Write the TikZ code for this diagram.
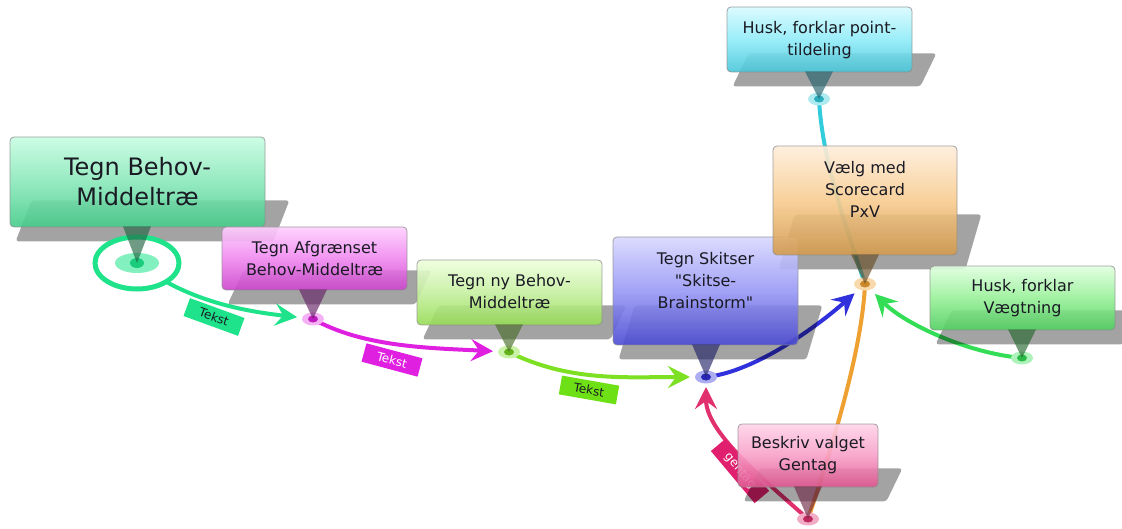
\documentclass[tikz,border=0pt]{standalone}
\usepackage{fontspec}
\setmainfont{DejaVu Sans}[Ligatures=TeXOff]
\usetikzlibrary{arrows.meta,calc}
\pgfdeclarelayer{bg}\pgfdeclarelayer{lines}\pgfdeclarelayer{shadows}
\pgfsetlayers{bg,lines,shadows,main}
\definecolor{gAt}{HTML}{C8FDE2}\definecolor{gAm}{HTML}{8AE8BA}\definecolor{gAb}{HTML}{45CC8A}\definecolor{gAl}{HTML}{1EE38A}
\definecolor{mBt}{HTML}{FFD0FF}\definecolor{mBm}{HTML}{F088F0}\definecolor{mBb}{HTML}{CC44CC}\definecolor{mBl}{HTML}{E020E0}
\definecolor{yCt}{HTML}{EEFFDD}\definecolor{yCm}{HTML}{C6F0A0}\definecolor{yCb}{HTML}{96DC55}\definecolor{yCl}{HTML}{7EE022}
\definecolor{bDt}{HTML}{D8D8FF}\definecolor{bDm}{HTML}{9898F6}\definecolor{bDb}{HTML}{4A4AD2}\definecolor{bDl}{HTML}{3030DD}
\definecolor{oEt}{HTML}{FFEEDC}\definecolor{oEm}{HTML}{F8CC90}\definecolor{oEb}{HTML}{D29A4C}\definecolor{oEl}{HTML}{EEA030}
\definecolor{cFt}{HTML}{D8FBFF}\definecolor{cFm}{HTML}{90ECF8}\definecolor{cFb}{HTML}{48C6D8}\definecolor{cFl}{HTML}{33CCDD}
\definecolor{vGt}{HTML}{E0FFE0}\definecolor{vGm}{HTML}{98F098}\definecolor{vGb}{HTML}{50CF60}\definecolor{vGl}{HTML}{33DD55}
\definecolor{pHt}{HTML}{FFD4E8}\definecolor{pHm}{HTML}{F8A0C8}\definecolor{pHb}{HTML}{E05590}\definecolor{pHl}{HTML}{E0306E}
\definecolor{lblA}{HTML}{1EE38A}\definecolor{lblB}{HTML}{E020E0}\definecolor{lblC}{HTML}{6EE016}\definecolor{lblG}{HTML}{E0206E}
\definecolor{txtc}{HTML}{1A1A24}
\newcommand\boxshadow[2]{\begin{pgfonlayer}{shadows}\fill[shadowst] ($(#1.south west)+(22,-#2)$) -- ($(#1.south east)+(24,-#2)$) -- ($(#1.south east)+(8,14)$) -- ($(#1.south west)+(6,14)$) -- cycle;\end{pgfonlayer}}
\newcommand\boxptr[3]{\fill[ptrst, fill=#3] ($(#1.south -| #2)+(-14,-1)$) -- (#2) -- ($(#1.south -| #2)+(14,-1)$) -- cycle;}
\newcommand\tipmark[3]{\fill[#2] (#1) ellipse[x radius=11, y radius=6.5]; \fill[#3] (#1) ellipse[x radius=5, y radius=3.5];}
\begin{document}
\begin{tikzpicture}[x=1pt,y=-1pt,
  boxst/.style={draw=black!45, line width=0.8pt, rounded corners=4pt, fill opacity=0.9, draw opacity=0.8, inner sep=0pt},
  txt/.style={align=center, text=txtc, font=\fontsize{16}{22}\selectfont, inner sep=0pt},
  bigtxt/.style={align=center, text=txtc, font=\fontsize{24}{30}\selectfont, inner sep=0pt},
  shadowst/.style={fill=black, fill opacity=0.36, rounded corners=3pt},
  ptrst/.style={fill opacity=0.65},
  conn/.style={line width=4pt, -{Stealth[length=22pt,width=22pt,inset=8pt]}},
  plain/.style={line width=4pt},
  lbl/.style={minimum width=58pt, minimum height=19pt, inner sep=0pt, font=\fontsize{12}{14}\selectfont}
]
\useasboundingbox (0,0) rectangle (1122,529);
\begin{pgfonlayer}{bg}\fill[white] (0,0) rectangle (1122,529);\end{pgfonlayer}

% tip coordinates
\coordinate (t1) at (137,263);
\coordinate (t2) at (313,319);
\coordinate (t3) at (509,352);
\coordinate (t4) at (706,377);
\coordinate (t5) at (865,284);
\coordinate (t6) at (819,99);
\coordinate (t7) at (1022,358);
\coordinate (t8) at (808,519);

% connectors
\begin{pgfonlayer}{lines}
\draw[conn, gAl, shorten >=16pt] (t1) .. controls +(50,38) and +(-70,-8) .. (t2);
\draw[conn, mBl, shorten >=16pt] (t2) .. controls +(50,28) and +(-80,-4) .. (t3);
\draw[conn, yCl, shorten >=16pt] (t3) .. controls +(60,30) and +(-80,0) .. (t4);
\draw[conn, bDl, shorten >=14pt] (t4) .. controls +(50,-5) and +(-45,40) .. (t5);
\draw[conn, vGl, shorten >=14pt] (t7) .. controls +(-55,-5) and +(40,40) .. (t5);
\draw[plain, cFl] (t6) .. controls +(3,60) and +(-20,-60) .. (t5);
\draw[plain, oEl] (t8) .. controls +(20,-60) and +(-3,70) .. (t5);
\draw[conn, pHl, shorten >=10pt] (t8) .. controls +(-45,-40) and +(0,55) .. (t4);
\node[lbl, fill=lblA, text=txtc, rotate=-20] (l1) at (214,317) {Tekst};
\node[lbl, fill=lblB, text=white, rotate=-15] (l2) at (392,360) {Tekst};
\node[lbl, fill=lblC, text=txtc, rotate=-10] (l3) at (589,390) {Tekst};
\node[lbl, fill=lblG, text=white, minimum width=68pt, rotate=-50] (lg) at (740,471) {gentag};
\end{pgfonlayer}

% boxes
\node[boxst, top color=gAt, bottom color=gAb, middle color=gAm, minimum width=255pt, minimum height=90pt] (b1) at (137.5,182) {};
\node[boxst, top color=mBt, bottom color=mBb, middle color=mBm, minimum width=185pt, minimum height=63pt] (b2) at (314.5,258.5) {};
\node[boxst, top color=yCt, bottom color=yCb, middle color=yCm, minimum width=185pt, minimum height=65pt] (b3) at (509.5,292.5) {};
\node[boxst, top color=bDt, bottom color=bDb, middle color=bDm, minimum width=185pt, minimum height=108pt] (b4) at (705.5,291) {};
\node[boxst, top color=oEt, bottom color=oEb, middle color=oEm, minimum width=184pt, minimum height=109pt] (b5) at (865,200.5) {};
\node[boxst, top color=cFt, bottom color=cFb, middle color=cFm, minimum width=185pt, minimum height=65pt] (b6) at (819.5,39.5) {};
\node[boxst, top color=vGt, bottom color=vGb, middle color=vGm, minimum width=185pt, minimum height=64pt] (b7) at (1022.5,298) {};
\node[boxst, top color=pHt, bottom color=pHb, middle color=pHm, minimum width=140pt, minimum height=63pt] (b8) at (808,455.5) {};

\boxshadow{b1}{27}
\boxshadow{b2}{20}
\boxshadow{b3}{20}
\boxshadow{b4}{40}
\boxshadow{b5}{41}
\boxshadow{b6}{19}
\boxshadow{b7}{20}
\boxshadow{b8}{19}

% texts
\node[bigtxt] (b1t) at (137.5,182) {Tegn Behov-\\Middeltræ};
\node[txt] (b2t) at (314.5,259) {Tegn Afgrænset\\Behov-Middeltræ};
\node[txt] (b3t) at (509.5,292) {Tegn ny Behov-\\Middeltræ};
\node[txt] (b4t) at (705.5,281) {Tegn Skitser\\"Skitse-\\Brainstorm"};
\node[txt] (b5t) at (865,189) {Vælg med\\Scorecard\\PxV};
\node[txt] (b6t) at (819.5,40) {Husk, forklar point-\\tildeling};
\node[txt] (b7t) at (1022.5,298) {Husk, forklar\\Vægtning};
\node[txt] (b8t) at (808,455) {Beskriv valget\\Gentag};

% ring and markers
\draw[gAl, line width=5pt, fill=white] (t1) ellipse[x radius=42, y radius=26];
\fill[gAl!55] (t1) ellipse[x radius=22, y radius=10];
\fill[gAl!90!black] (t1) ellipse[x radius=7, y radius=5];
\tipmark{t2}{mBl!35}{mBl!85!black}
\tipmark{t3}{yCl!40}{yCl!80!black}
\tipmark{t4}{bDl!40}{bDl!80!black}
\tipmark{t5}{oEl!40}{oEl!85!black}
\tipmark{t6}{cFl!40}{cFl!85!black}
\tipmark{t7}{vGl!40}{vGl!85!black}
\tipmark{t8}{pHl!40}{pHl!85!black}

% pointers
\boxptr{b1}{t1}{gAb!50!black}
\boxptr{b2}{t2}{mBb!50!black}
\boxptr{b3}{t3}{yCb!50!black}
\boxptr{b4}{t4}{bDb!50!black}
\boxptr{b5}{t5}{oEb!50!black}
\boxptr{b6}{t6}{cFb!50!black}
\boxptr{b7}{t7}{vGb!50!black}
\boxptr{b8}{t8}{pHb!50!black}
\end{tikzpicture}
\end{document}
